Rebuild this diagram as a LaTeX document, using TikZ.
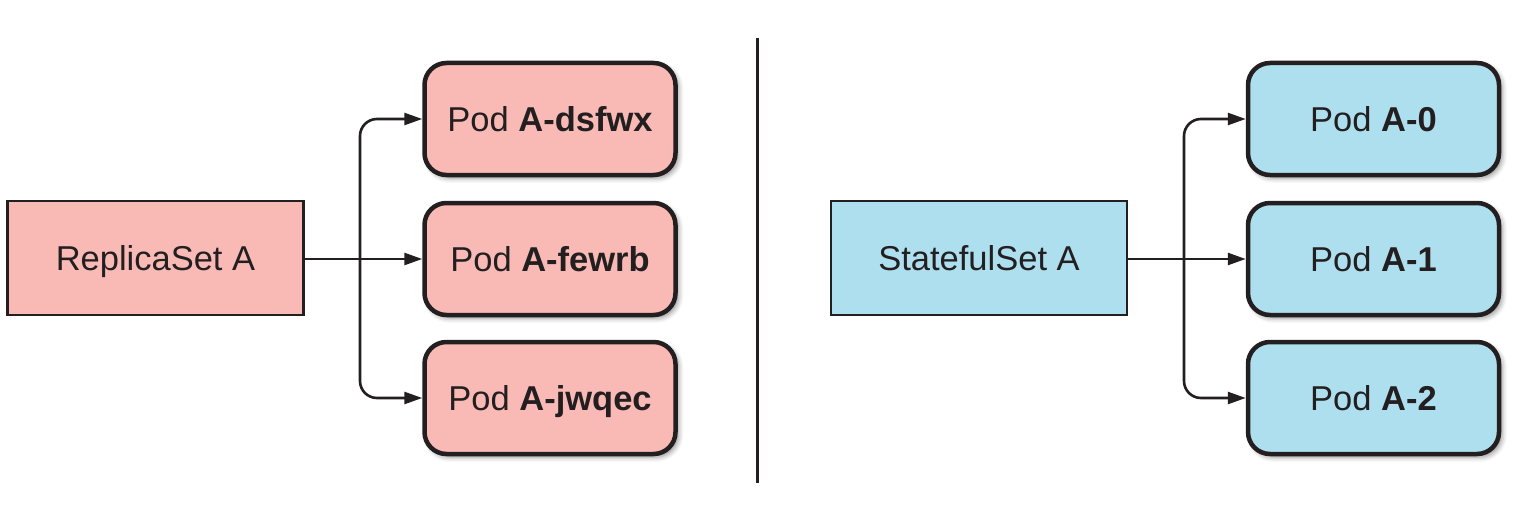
\documentclass[tikz,border=0pt]{standalone}
\usepackage{fontspec}
\setmainfont{Liberation Sans}
\usetikzlibrary{arrows.meta,shadows.blur}
\definecolor{ink}{HTML}{231F20}
\definecolor{pinkfill}{HTML}{F9BAB6}
\definecolor{bluefill}{HTML}{ADDFEE}
\tikzset{
  setbox/.style={draw=ink, line width=2.2pt, minimum width=296pt, minimum height=114pt, inner sep=0pt, text=ink, text height=25pt, text depth=0pt, font=\fontsize{34.5}{40}\selectfont},
  podbox/.style={draw=ink, line width=4.5pt, rounded corners=22pt, minimum width=251pt, minimum height=112pt, inner sep=0pt, text=ink, text height=25pt, text depth=0pt, font=\fontsize{34.5}{40}\selectfont,
    blur shadow={shadow xshift=3pt, shadow yshift=-3pt, shadow blur radius=5pt, shadow opacity=45}},
  conn/.style={draw=ink, line width=2.6pt, -{Triangle[length=18pt,width=12pt]}},
  conn2/.style={draw=ink, line width=2.6pt, {Triangle[length=18pt,width=12pt]}-{Triangle[length=18pt,width=12pt]}, rounded corners=17pt},
}
\begin{document}
\begin{tikzpicture}[x=1pt,y=-1pt]
\useasboundingbox (0,0) rectangle (1523,508);
% left
\node[setbox, fill=pinkfill] (rs) at (155.5,258) {ReplicaSet A};
\node[podbox, fill=pinkfill] (p1) at (550,119) {Pod \textbf{A-dsfwx}};
\node[podbox, fill=pinkfill] (p2) at (550,259) {Pod \textbf{A-fewrb}};
\node[podbox, fill=pinkfill] (p3) at (550,398) {Pod \textbf{A-jwqec}};
\coordinate (lb) at (360,259);
\draw[conn] (rs.east |- p2.west) -- (p2.west);
\draw[conn2] (p1.west) -| (lb) |- (p3.west);
% divider
\coordinate (d1) at (757,38);
\coordinate (d2) at (757,483);
\draw[ink, line width=3pt] (d1) -- (d2);
% right
\node[setbox, fill=bluefill] (ss) at (979,258) {StatefulSet A};
\node[podbox, fill=bluefill] (q1) at (1373.5,119) {Pod \textbf{A-0}};
\node[podbox, fill=bluefill] (q2) at (1373.5,259) {Pod \textbf{A-1}};
\node[podbox, fill=bluefill] (q3) at (1373.5,398) {Pod \textbf{A-2}};
\coordinate (rb) at (1184,259);
\draw[conn] (ss.east |- q2.west) -- (q2.west);
\draw[conn2] (q1.west) -| (rb) |- (q3.west);
\end{tikzpicture}
\end{document}
